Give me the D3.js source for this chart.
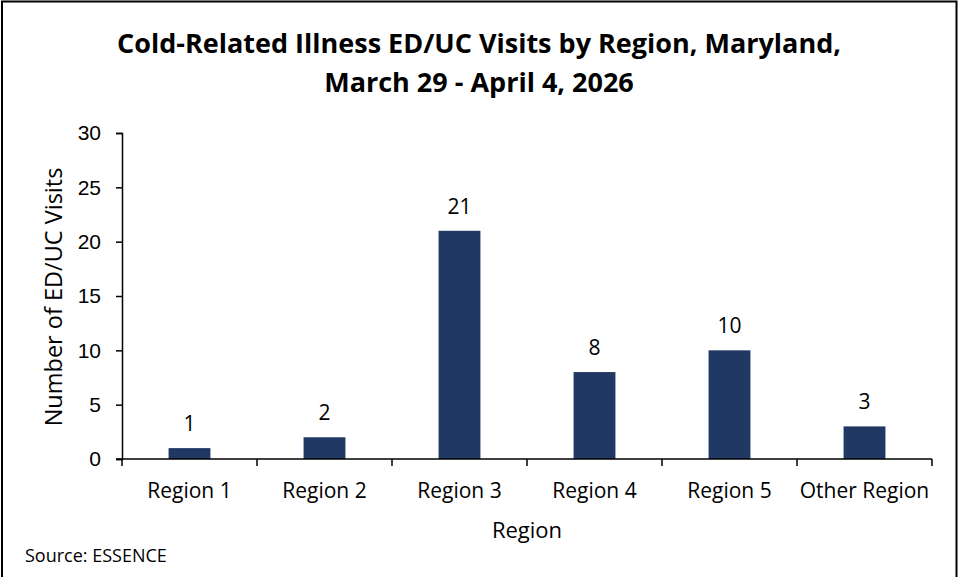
<!DOCTYPE html>
<html><head><meta charset="utf-8">
<script src="https://cdn.jsdelivr.net/npm/d3@7"></script>
<style>
body{margin:0;background:#fff;}
svg{display:block;font-family:"Open Sans",Carlito,Calibri,sans-serif;}
</style></head>
<body><svg id="c" width="959" height="577"></svg>
<script>
const categories = ["Region 1","Region 2","Region 3","Region 4","Region 5","Other Region"];
const values = [1,2,21,8,10,3];
const yTicks = [0,5,10,15,20,25,30];
const titleLines = ["Cold-Related Illness ED/UC Visits by Region, Maryland,","March 29 - April 4, 2026"];

const svg = d3.select("#c");
const m = {left:122, right:932, top:133, bottom:459};
svg.append("rect").attr("x",2).attr("y",1.5).attr("width",954.5).attr("height",580)
  .attr("fill","#fff").attr("stroke","#000").attr("stroke-width",2);

const x = d3.scaleBand().domain(categories).range([m.left,m.right]).paddingInner(0.69).paddingOuter(0.345);
const y = d3.scaleLinear().domain([0,30]).range([m.bottom,m.top]);

// title
svg.append("g").selectAll("text").data(titleLines).join("text")
  .attr("x",479).attr("y",(d,i)=>53+i*39).attr("text-anchor","middle")
  .attr("font-weight","bold").attr("font-size",27).attr("fill","#000")
  .text(d=>d);

// bars
svg.append("g").selectAll("rect").data(values).join("rect")
  .attr("x",(d,i)=>x(categories[i])).attr("width",x.bandwidth())
  .attr("y",d=>y(d)).attr("height",d=>y(0)-y(d)).attr("fill","#203864");

// labels
svg.append("g").selectAll("text").data(values).join("text")
  .attr("x",(d,i)=>x(categories[i])+x.bandwidth()/2).attr("y",d=>y(d)-17)
  .attr("text-anchor","middle").attr("font-size",21).attr("fill","#000").text(d=>d);

// y axis
const ya = svg.append("g").attr("transform",`translate(${m.left},0)`)
  .call(d3.axisLeft(y).tickValues(yTicks).tickSize(6).tickPadding(15));
ya.select(".domain").attr("stroke","#000").attr("stroke-width",1.5);
ya.selectAll(".tick line").attr("stroke","#000").attr("stroke-width",1.5);
ya.selectAll("text").attr("font-size",21).attr("fill","#000").attr("font-family",null);

// x axis with ticks at band boundaries
const xa = svg.append("g").attr("transform",`translate(0,${m.bottom})`);
xa.append("line").attr("x1",m.left-6).attr("x2",m.right).attr("stroke","#000").attr("stroke-width",1.5);
const bounds = d3.range(categories.length+1).map(i=>m.left+i*x.step());
xa.selectAll(".b").data(bounds).join("line").attr("class","b")
  .attr("x1",d=>d).attr("x2",d=>d).attr("y1",0).attr("y2",7).attr("stroke","#000").attr("stroke-width",1.5);
xa.selectAll("text").data(categories).join("text")
  .attr("x",d=>x(d)+x.bandwidth()/2).attr("y",39).attr("text-anchor","middle")
  .attr("font-size",21).attr("fill","#000").text(d=>d);

// axis titles
svg.append("text").attr("x",527).attr("y",538).attr("text-anchor","middle").attr("font-size",22).text("Region");
svg.append("text").attr("transform","translate(62,297) rotate(-90)").attr("text-anchor","middle").attr("font-size",23.5).text("Number of ED/UC Visits");
svg.append("text").attr("x",25).attr("y",562).attr("font-size",18).text("Source: ESSENCE");
</script></body></html>
